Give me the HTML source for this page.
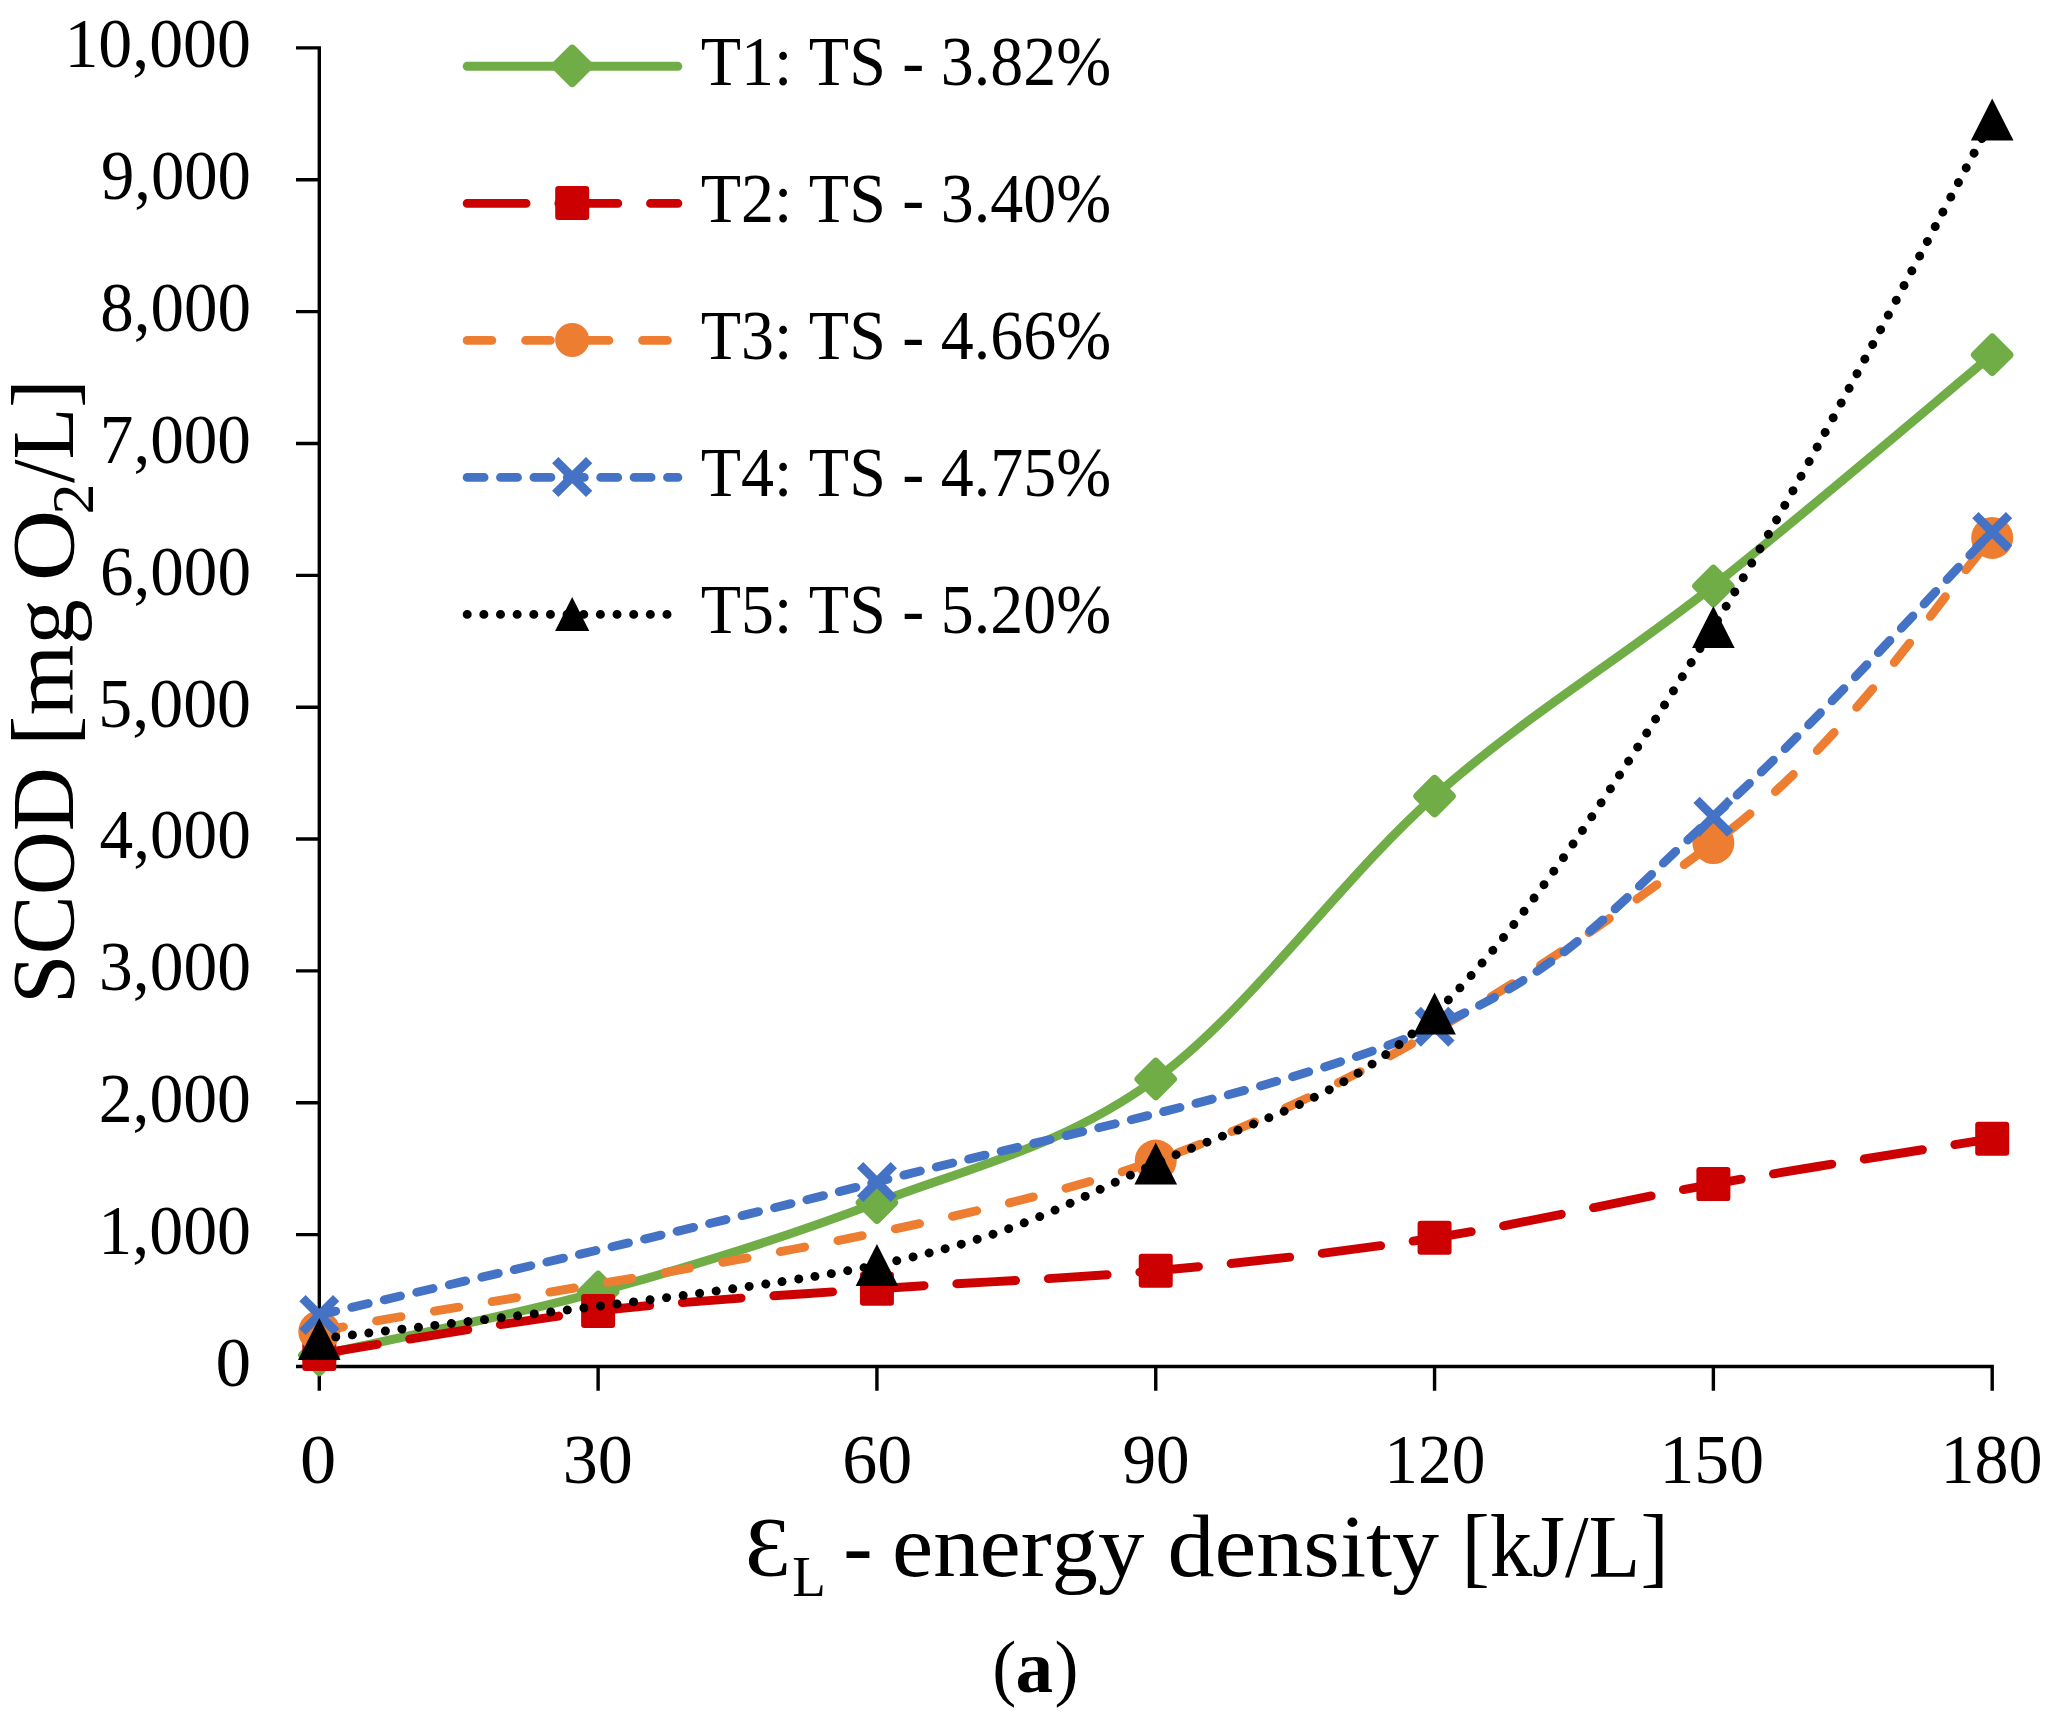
<!DOCTYPE html>
<html lang="en"><head><meta charset="utf-8"><title>SCOD vs energy density</title>
<style>html,body{margin:0;padding:0;background:#fff}svg{display:block}text{font-kerning:none;font-family:"Liberation Serif","DejaVu Serif",serif;fill:#000}</style></head><body>
<svg width="2053" height="1715" viewBox="0 0 2053 1715">
<rect width="2053" height="1715" fill="#fff"/>
<path d="M319.30,46.20 V1368.20 M317.60,1366.50 H1993.90 M296.00,1366.50 H319.30 M296.00,1234.64 H319.30 M296.00,1102.78 H319.30 M296.00,970.92 H319.30 M296.00,839.06 H319.30 M296.00,707.20 H319.30 M296.00,575.34 H319.30 M296.00,443.48 H319.30 M296.00,311.62 H319.30 M296.00,179.76 H319.30 M296.00,47.90 H319.30 M319.30,1366.50 V1390.80 M598.12,1366.50 V1390.80 M876.93,1366.50 V1390.80 M1155.75,1366.50 V1390.80 M1434.57,1366.50 V1390.80 M1713.38,1366.50 V1390.80 M1992.20,1366.50 V1390.80" fill="none" stroke="#000" stroke-width="3.40"/>
<text transform="translate(215.49,1385.90) scale(1.0179,1)" font-size="70.0">0</text>
<text transform="translate(98.34,1254.04) scale(0.9692,1)" font-size="70.0">1,000</text>
<text transform="translate(98.73,1122.18) scale(0.9667,1)" font-size="70.0">2,000</text>
<text transform="translate(99.07,990.32) scale(0.9645,1)" font-size="70.0">3,000</text>
<text transform="translate(99.49,858.46) scale(0.9618,1)" font-size="70.0">4,000</text>
<text transform="translate(98.36,726.60) scale(0.9690,1)" font-size="70.0">5,000</text>
<text transform="translate(100.02,594.74) scale(0.9583,1)" font-size="70.0">6,000</text>
<text transform="translate(99.87,462.88) scale(0.9593,1)" font-size="70.0">7,000</text>
<text transform="translate(100.35,331.02) scale(0.9562,1)" font-size="70.0">8,000</text>
<text transform="translate(100.95,199.16) scale(0.9523,1)" font-size="70.0">9,000</text>
<text transform="translate(64.44,67.30) scale(0.9691,1)" font-size="70.0">10,000</text>
<text transform="translate(300.04,1482.80) scale(1.0348,1)" font-size="70.0">0</text>
<text transform="translate(562.64,1482.80) scale(1.0018,1)" font-size="70.0">30</text>
<text transform="translate(842.19,1482.80) scale(0.9996,1)" font-size="70.0">60</text>
<text transform="translate(1122.54,1482.80) scale(0.9588,1)" font-size="70.0">90</text>
<text transform="translate(1384.28,1482.80) scale(0.9628,1)" font-size="70.0">120</text>
<text transform="translate(1659.47,1482.80) scale(0.9960,1)" font-size="70.0">150</text>
<text transform="translate(1940.41,1482.80) scale(0.9732,1)" font-size="70.0">180</text>
<path d="M319.30,1355.00 C365.77,1344.50 505.18,1317.38 598.12,1292.00 C691.06,1266.62 783.99,1238.20 876.93,1202.70 C969.87,1167.20 1062.81,1146.77 1155.75,1079.00 C1248.69,1011.23 1341.63,878.27 1434.57,796.10 C1527.51,713.93 1620.44,659.55 1713.38,586.00 C1806.32,512.45 1945.73,393.33 1992.20,354.80" fill="none" stroke="#70AD47" stroke-width="8.9" stroke-linecap="round" stroke-linejoin="round"/>
<path d="M319.30,1337.80 L336.50,1355.00 L319.30,1372.20 L302.10,1355.00 Z" fill="#70AD47" stroke="#70AD47" stroke-width="8" stroke-linejoin="round"/>
<path d="M598.12,1274.80 L615.32,1292.00 L598.12,1309.20 L580.92,1292.00 Z" fill="#70AD47" stroke="#70AD47" stroke-width="8" stroke-linejoin="round"/>
<path d="M876.93,1185.50 L894.13,1202.70 L876.93,1219.90 L859.73,1202.70 Z" fill="#70AD47" stroke="#70AD47" stroke-width="8" stroke-linejoin="round"/>
<path d="M1155.75,1061.80 L1172.95,1079.00 L1155.75,1096.20 L1138.55,1079.00 Z" fill="#70AD47" stroke="#70AD47" stroke-width="8" stroke-linejoin="round"/>
<path d="M1434.57,778.90 L1451.77,796.10 L1434.57,813.30 L1417.37,796.10 Z" fill="#70AD47" stroke="#70AD47" stroke-width="8" stroke-linejoin="round"/>
<path d="M1713.38,568.80 L1730.58,586.00 L1713.38,603.20 L1696.18,586.00 Z" fill="#70AD47" stroke="#70AD47" stroke-width="8" stroke-linejoin="round"/>
<path d="M1992.20,337.60 L2009.40,354.80 L1992.20,372.00 L1975.00,354.80 Z" fill="#70AD47" stroke="#70AD47" stroke-width="8" stroke-linejoin="round"/>
<path d="M319.30,1354.00 C365.77,1346.83 505.18,1321.87 598.12,1311.00 C691.06,1300.13 783.99,1295.50 876.93,1288.80 C969.87,1282.10 1062.81,1279.30 1155.75,1270.80 C1248.69,1262.30 1341.63,1252.25 1434.57,1237.80 C1527.51,1223.35 1620.44,1200.62 1713.38,1184.10 C1806.32,1167.58 1945.73,1146.27 1992.20,1138.70" fill="none" stroke="#CC0000" stroke-width="8.9" stroke-linecap="round" stroke-linejoin="round" stroke-dasharray="58.90 32.80"/>
<rect x="302.30" y="1337.00" width="34.00" height="34.00" rx="3.2" fill="#CC0000"/>
<rect x="581.12" y="1294.00" width="34.00" height="34.00" rx="3.2" fill="#CC0000"/>
<rect x="859.93" y="1271.80" width="34.00" height="34.00" rx="3.2" fill="#CC0000"/>
<rect x="1138.75" y="1253.80" width="34.00" height="34.00" rx="3.2" fill="#CC0000"/>
<rect x="1417.57" y="1220.80" width="34.00" height="34.00" rx="3.2" fill="#CC0000"/>
<rect x="1696.38" y="1167.10" width="34.00" height="34.00" rx="3.2" fill="#CC0000"/>
<rect x="1975.20" y="1121.70" width="34.00" height="34.00" rx="3.2" fill="#CC0000"/>
<path d="M319.30,1331.50 C458.71,1303.02 923.40,1242.02 1155.75,1160.60 C1388.10,1079.18 1573.97,946.78 1713.38,843.00 C1852.79,739.22 1945.73,588.75 1992.20,537.90" fill="none" stroke="#ED7D31" stroke-width="8.9" stroke-linecap="round" stroke-linejoin="round" stroke-dasharray="24.70 33.80"/>
<circle cx="319.30" cy="1331.50" r="21.00" fill="#ED7D31"/>
<circle cx="1155.75" cy="1160.60" r="21.00" fill="#ED7D31"/>
<circle cx="1713.38" cy="843.00" r="21.00" fill="#ED7D31"/>
<circle cx="1992.20" cy="537.90" r="21.00" fill="#ED7D31"/>
<path d="M319.30,1315.00 C412.24,1292.83 691.06,1230.03 876.93,1182.00 C1062.81,1133.97 1295.16,1087.68 1434.57,1026.80 C1573.97,965.92 1620.44,899.18 1713.38,816.70 C1806.32,734.22 1945.73,579.37 1992.20,531.90" fill="none" stroke="#4472C4" stroke-width="8.9" stroke-linecap="round" stroke-linejoin="round" stroke-dasharray="16.90 16.50"/>
<path d="M302.45,1298.15 L336.15,1331.85 M302.45,1331.85 L336.15,1298.15" fill="none" stroke="#4472C4" stroke-width="8.90"/>
<path d="M860.08,1165.15 L893.79,1198.85 M860.08,1198.85 L893.79,1165.15" fill="none" stroke="#4472C4" stroke-width="8.90"/>
<path d="M1417.71,1009.95 L1451.42,1043.65 M1417.71,1043.65 L1451.42,1009.95" fill="none" stroke="#4472C4" stroke-width="8.90"/>
<path d="M1696.53,799.85 L1730.24,833.55 M1696.53,833.55 L1730.24,799.85" fill="none" stroke="#4472C4" stroke-width="8.90"/>
<path d="M1975.35,515.05 L2009.05,548.75 M1975.35,548.75 L2009.05,515.05" fill="none" stroke="#4472C4" stroke-width="8.90"/>
<path d="M319.30,1339.00 C412.24,1326.67 737.53,1294.25 876.93,1265.00 C1016.34,1235.75 1062.81,1205.40 1155.75,1163.50 C1248.69,1121.60 1341.63,1103.02 1434.57,1013.60 C1527.51,924.18 1620.44,776.02 1713.38,627.00 C1806.32,477.98 1945.73,204.08 1992.20,119.50" fill="none" stroke="#000000" stroke-width="8.9" stroke-linecap="round" stroke-linejoin="round" stroke-dasharray="0.10 16.55"/>
<path d="M319.30,1318.00 L340.60,1360.00 L298.00,1360.00 Z" fill="#000000"/>
<path d="M876.93,1244.00 L898.23,1286.00 L855.63,1286.00 Z" fill="#000000"/>
<path d="M1155.75,1142.50 L1177.05,1184.50 L1134.45,1184.50 Z" fill="#000000"/>
<path d="M1434.57,992.60 L1455.87,1034.60 L1413.27,1034.60 Z" fill="#000000"/>
<path d="M1713.38,606.00 L1734.68,648.00 L1692.08,648.00 Z" fill="#000000"/>
<path d="M1992.20,98.50 L2013.50,140.50 L1970.90,140.50 Z" fill="#000000"/>
<path d="M467.15,66.30 H677.85" fill="none" stroke="#70AD47" stroke-width="8.9" stroke-linecap="round"/>
<path d="M572.20,48.70 L589.40,65.90 L572.20,83.10 L555.00,65.90 Z" fill="#70AD47" stroke="#70AD47" stroke-width="8" stroke-linejoin="round"/>
<text transform="translate(700.71,84.70) scale(0.9427,1)" font-size="70.0">T1: TS - 3.82%</text>
<path d="M467.15,203.40 H677.85" fill="none" stroke="#CC0000" stroke-width="8.9" stroke-linecap="round" stroke-dasharray="58.90 32.80"/>
<rect x="555.20" y="186.00" width="34.00" height="34.00" rx="3.2" fill="#CC0000"/>
<text transform="translate(700.71,221.80) scale(0.9427,1)" font-size="70.0">T2: TS - 3.40%</text>
<path d="M467.15,340.40 H677.85" fill="none" stroke="#ED7D31" stroke-width="8.9" stroke-linecap="round" stroke-dasharray="24.70 33.80"/>
<circle cx="572.20" cy="340.00" r="17.10" fill="#ED7D31"/>
<text transform="translate(700.71,358.80) scale(0.9427,1)" font-size="70.0">T3: TS - 4.66%</text>
<path d="M467.15,477.40 H677.85" fill="none" stroke="#4472C4" stroke-width="8.9" stroke-linecap="round" stroke-dasharray="16.90 16.50"/>
<path d="M555.25,460.05 L589.15,493.95 M555.25,493.95 L589.15,460.05" fill="none" stroke="#4472C4" stroke-width="8.90"/>
<text transform="translate(700.71,495.80) scale(0.9427,1)" font-size="70.0">T4: TS - 4.75%</text>
<path d="M467.15,614.40 H677.85" fill="none" stroke="#000000" stroke-width="8.9" stroke-linecap="round" stroke-dasharray="0.10 16.55"/>
<path d="M572.20,596.90 L589.30,631.10 L555.10,631.10 Z" fill="#000000"/>
<text transform="translate(700.71,632.80) scale(0.9427,1)" font-size="70.0">T5: TS - 5.20%</text>
<text transform="translate(744.83,1575.50) scale(1.0872,1)" font-size="84.5">Ɛ</text>
<text transform="translate(792.22,1595.90) scale(0.9732,1)" font-size="56.5">L</text>
<text transform="translate(843.13,1575.50) scale(0.9905,1)" font-size="89.0">-</text>
<text transform="translate(891.98,1575.50) scale(1.0423,1)" font-size="89.0">energy</text>
<text transform="translate(1167.60,1575.50) scale(1.0563,1)" font-size="89.0">density</text>
<text transform="translate(1461.40,1575.50) scale(0.9530,1)" font-size="89.0">[kJ/L]</text>
<text transform="translate(72.50,1004.05) rotate(-90) scale(0.9987,1)" font-size="89.0">SCOD</text>
<text transform="translate(72.50,745.96) rotate(-90) scale(1.0240,1)" font-size="89.0">[mg</text>
<text transform="translate(72.50,581.17) rotate(-90) scale(1.1146,1)" font-size="89.0">O</text>
<text transform="translate(93.20,514.42) rotate(-90) scale(1.0539,1)" font-size="58.7">2</text>
<text transform="translate(72.50,483.00) rotate(-90) scale(0.9518,1)" font-size="89.0">/L]</text>
<text transform="translate(992.33,1692.10) scale(0.9604,1)" font-size="75.0">(</text>
<text transform="translate(1015.58,1692.10) scale(1.0015,1)" font-size="75.0" font-weight="bold">a</text>
<text transform="translate(1054.48,1692.10) scale(0.9604,1)" font-size="75.0">)</text>
</svg></body></html>
